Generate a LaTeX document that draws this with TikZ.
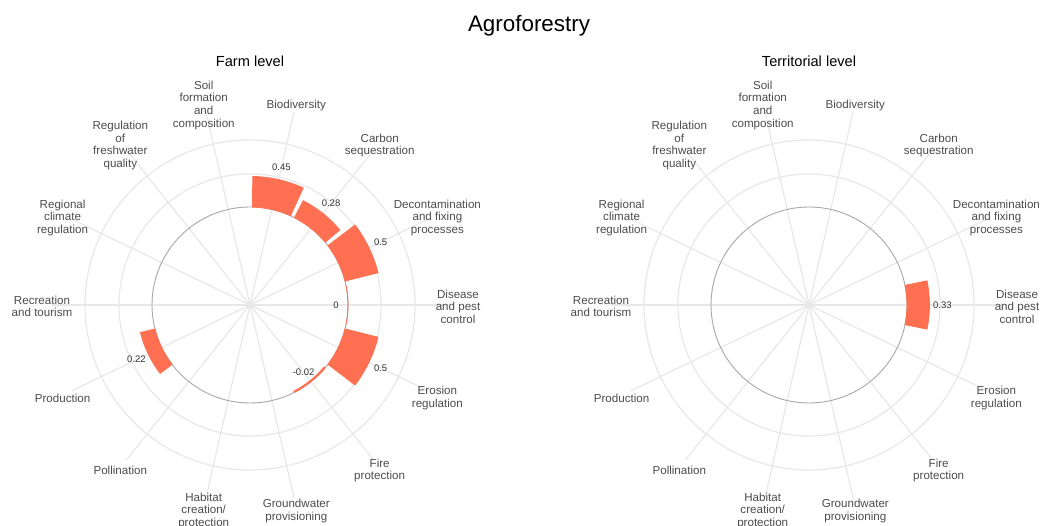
\documentclass[tikz,border=0pt]{standalone}
\usepackage{fontspec}
\setmainfont{Liberation Sans}
\usetikzlibrary{calc}
\definecolor{barcol}{HTML}{FF7052}
\definecolor{gridcol}{HTML}{E8E8E8}
\definecolor{zerocol}{HTML}{A8A8A8}
\definecolor{labcol}{HTML}{4D4D4D}
\definecolor{valcol}{HTML}{333333}

\newcommand\myframe[1]{%
  \foreach \i in {0,...,13} {%
    \pgfmathsetmacro\ang{77.142857-25.714286*\i}
    \draw[gline] (#1) -- ($(#1)+(\ang:198pt)$);
  }
  \draw[gline] (#1) circle[radius=131pt];
  \draw[gline] (#1) circle[radius=165pt];
  \draw[zline] (#1) circle[radius=98pt];
  \foreach \i/\txt in {0/Biodiversity, 1/{Carbon\\sequestration},
      2/{Decontamination\\and fixing\\processes}, 3/{Disease\\and pest\\control},
      4/{Erosion\\regulation}, 5/{Fire\\protection}, 6/{Groundwater\\provisioning},
      7/{Habitat\\creation/\\protection}, 8/Pollination, 9/Production,
      10/{Recreation\\and tourism}, 11/{Regional\\climate\\regulation},
      12/{Regulation\\of\\freshwater\\quality}, 13/{Soil\\formation\\and\\composition}} {%
    \pgfmathsetmacro\ang{77.142857-25.714286*\i}
    \pgfmathsetmacro\ys{(\i==3 || \i==10) ? -1.5 : -3}
    \node[catlabel, yshift=\ys pt] (#1-c\i) at ($(#1)+(\ang:208pt)$) {\txt};
  }
}

\newcommand\mybar[3]{%
  \pgfmathsetmacro\ang{77.142857-25.714286*#2}
  \pgfmathsetmacro\aa{\ang-11.57}
  \pgfmathsetmacro\ab{\ang+11.57}
  \pgfmathsetmacro\rb{98+68*#3}
  \filldraw[barshape] ($(#1)+(\aa:98pt)$) arc[start angle=\aa, end angle=\ab, radius=98pt]
    -- ($(#1)+(\ab:\rb pt)$) arc[start angle=\ab, end angle=\aa, radius=\rb pt] -- cycle;
}

\newcommand\myval[4]{%
  \pgfmathsetmacro\ang{77.142857-25.714286*#2}
  \node[vallabel] (#1-v#2) at ($(#1)+(\ang:#3pt)$) {#4};
}

\begin{document}
\begin{tikzpicture}[x=1pt,y=1pt,
  gline/.style={draw=gridcol, line width=1.2pt},
  zline/.style={draw=zerocol, line width=0.9pt},
  barshape/.style={fill=barcol, draw=barcol, line width=0.8pt, line join=miter},
  catlabel/.style={text=labcol, font=\fontsize{11.6}{12.6}\selectfont, align=center, inner sep=0pt},
  vallabel/.style={text=valcol, font=\fontsize{9.5}{11}\selectfont, inner sep=0pt},
  ttl/.style={font=\fontsize{22.4}{26}\selectfont, inner sep=0pt},
  subttl/.style={font=\fontsize{14.6}{17}\selectfont, inner sep=0pt}]
\useasboundingbox (0,0) rectangle (1040,526);
\fill[white] (0,0) rectangle (1040,526);

\node[ttl, anchor=base] (title) at (529,494.3) {Agroforestry};
\node[subttl, anchor=base] (farm) at (250,459) {Farm level};
\node[subttl, anchor=base] (terr) at (809,459) {Territorial level};

\coordinate (L) at (250,221);
\coordinate (R) at (809,221);

\myframe{L}
\myframe{R}

% Farm level bars
\mybar{L}{0}{0.45}
\mybar{L}{1}{0.28}
\mybar{L}{2}{0.5}
\mybar{L}{3}{0}
\mybar{L}{4}{0.5}
\mybar{L}{5}{-0.02}
\mybar{L}{9}{0.22}
\myval{L}{0}{141}{0.45}
\myval{L}{1}{130}{0.28}
\myval{L}{2}{145}{0.5}
\myval{L}{3}{86}{0}
\myval{L}{4}{145}{0.5}
\myval{L}{5}{86}{-0.02}
\myval{L}{9}{126}{0.22}

% Territorial level bars
\mybar{R}{3}{0.33}
\myval{R}{3}{133.4}{0.33}
\end{tikzpicture}
\end{document}
